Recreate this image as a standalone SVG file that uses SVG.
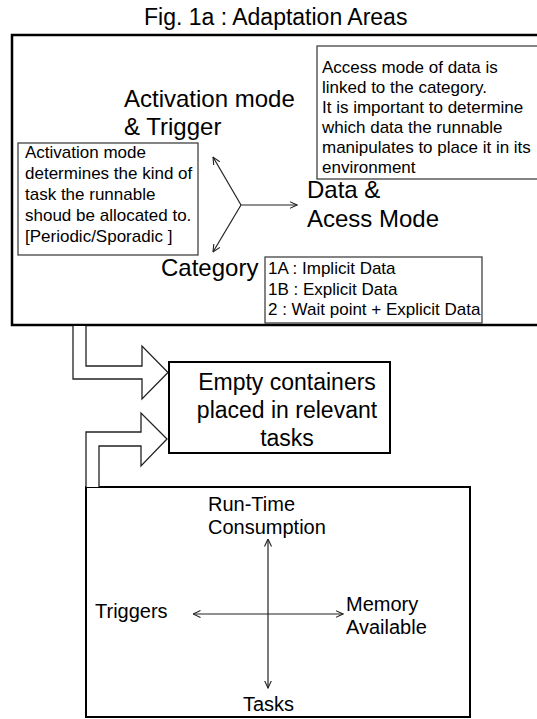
<svg xmlns="http://www.w3.org/2000/svg" width="537" height="719" viewBox="0 0 537 719">
<defs>
<style>
text{font-family:"Liberation Sans",Arial,sans-serif;fill:#000}
.t17{font-size:17px}
.t20{font-size:20px}
.t23{font-size:23px}
.t24{font-size:24px}
.frame{fill:#fff;stroke:#000;stroke-width:2.5}
.box{fill:#fff;stroke:#000;stroke-width:2}
.note{fill:#fff;stroke:#333;stroke-width:1.2}
.ln{fill:none;stroke:#222;stroke-width:1.2}
.blk{fill:#fff;stroke:#222;stroke-width:1.3;stroke-linejoin:miter}
</style>
<marker id="ah" viewBox="0 0 8 8" refX="7.5" refY="4" markerWidth="8" markerHeight="8" markerUnits="userSpaceOnUse" orient="auto-start-reverse">
<path d="M0,0.5 L7.5,4 L0,7.5" fill="none" stroke="#222" stroke-width="1.1"/>
</marker>
</defs>
<rect width="537" height="719" fill="#fff"/>

<g id="title"><text class="t23" x="144" y="25">Fig. 1a : Adaptation Areas</text></g>

<g id="adaptation-frame"><rect class="frame" x="12" y="35" width="540" height="290"/></g>

<g id="access-note">
<rect class="note" x="317" y="46" width="230" height="133"/>
<text class="t17" x="322" y="73">Access mode of data is</text>
<text class="t17" x="322" y="93">linked to the category.</text>
<text class="t17" x="322" y="113">It is important to determine</text>
<text class="t17" x="322" y="133">which data the runnable</text>
<text class="t17" x="322" y="153">manipulates to place it in its</text>
<text class="t17" x="322" y="173">environment</text>
</g>

<g id="activation-label">
<text class="t24" x="124" y="107">Activation mode</text>
<text class="t24" x="124" y="135">&amp; Trigger</text>
</g>

<g id="activation-note">
<rect class="note" x="18" y="143" width="180" height="112"/>
<text class="t17" x="25" y="158">Activation mode</text>
<text class="t17" x="25" y="179">determines the kind of</text>
<text class="t17" x="25" y="200">task the runnable</text>
<text class="t17" x="25" y="221">shoud be allocated to.</text>
<text class="t17" x="25" y="242">[Periodic/Sporadic ]</text>
</g>

<g id="data-label">
<text class="t24" x="307" y="198">Data &amp;</text>
<text class="t24" x="307" y="227">Acess Mode</text>
</g>

<g id="category-label"><text class="t24" x="161" y="276">Category</text></g>

<g id="category-note">
<rect class="note" x="265" y="257" width="217" height="66"/>
<text class="t17" x="268" y="274">1A : Implicit Data</text>
<text class="t17" x="268" y="294.5">1B : Explicit Data</text>
<text class="t17" x="268" y="315">2 : Wait point + Explicit Data</text>
</g>

<g id="empty-containers">
<rect class="box" x="169" y="362" width="221" height="91"/>
<text class="t23" x="287" y="390" text-anchor="middle">Empty containers</text>
<text class="t23" x="287" y="418" text-anchor="middle">placed in relevant</text>
<text class="t23" x="287" y="446" text-anchor="middle">tasks</text>
</g>

<g id="constraints-frame">
<rect class="box" x="86" y="487" width="384" height="230"/>
</g>
<g id="runtime-label">
<text class="t20" x="208" y="511">Run-Time</text>
<text class="t20" x="208" y="534">Consumption</text>
</g>
<g id="triggers-label"><text class="t20" x="95" y="618">Triggers</text></g>
<g id="memory-label">
<text class="t20" x="346" y="611">Memory</text>
<text class="t20" x="346" y="634">Available</text>
</g>
<g id="tasks-label"><text class="t20" x="243" y="711">Tasks</text></g>

<g id="connectors">
<line class="ln" x1="241" y1="205" x2="213" y2="157" marker-end="url(#ah)"/>
<line class="ln" x1="241" y1="205" x2="213" y2="252" marker-end="url(#ah)"/>
<line class="ln" x1="241" y1="205" x2="297" y2="205" marker-end="url(#ah)"/>
<line class="ln" x1="268" y1="539" x2="268" y2="688" marker-start="url(#ah)" marker-end="url(#ah)"/>
<line class="ln" x1="193" y1="614" x2="343" y2="614" marker-start="url(#ah)" marker-end="url(#ah)"/>
<path class="blk" d="M73,326 L73,379 L142,379 L142,399 L168,372.5 L142,346 L142,366 L86,366 L86,326"/>
<path class="blk" d="M86,487 L86,432 L141,432 L141,413 L167,439 L141,466 L141,446 L99,446 L99,487"/>
</g>
</svg>
